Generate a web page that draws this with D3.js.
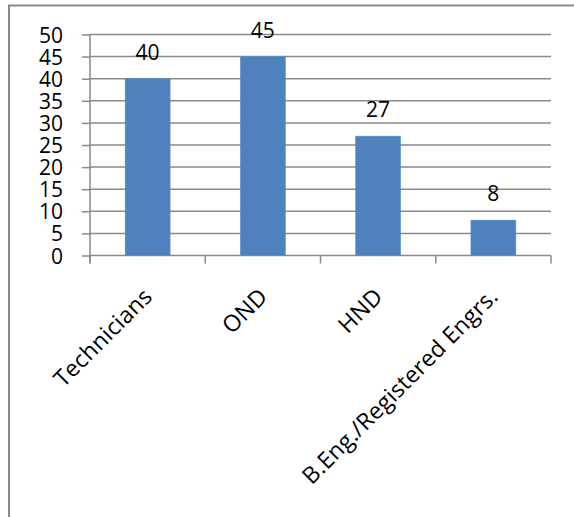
<!DOCTYPE html>
<html>
<head>
<meta charset="utf-8">
<script src="https://cdn.jsdelivr.net/npm/d3@7/dist/d3.min.js"></script>
<style>
  html, body { margin: 0; padding: 0; background: #fff; }
  svg { display: block; }
  text { font-family: "Open Sans", "Liberation Sans", sans-serif; fill: #000; }
</style>
</head>
<body>
<svg id="chart" width="574" height="517"></svg>
<script>
const categories = ["Technicians", "OND", "HND", "B.Eng./Registered Engrs."];
const values = [40, 45, 27, 8];
const yTicks = [0, 5, 10, 15, 20, 25, 30, 35, 40, 45, 50];

const svg = d3.select("#chart");
const W = 574, H = 517;

// outer chart frame (cropped at right and bottom)
svg.append("path")
  .attr("d", `M9,${H + 2} L9,5.5 L${W + 2},5.5`)
  .attr("fill", "none")
  .attr("stroke", "#878787")
  .attr("stroke-width", 2);

const plot = { left: 90, right: 551, top: 34.5, bottom: 255.5 };

const x = d3.scaleBand().domain(categories).range([plot.left, plot.right]).paddingInner(0.61).paddingOuter(0.305);
const xb = d3.scaleBand().domain(categories).range([plot.left, plot.right]).padding(0);
const y = d3.scaleLinear().domain([0, 50]).range([plot.bottom, plot.top]);

const gridColor = "#8a8a8a";

// gridlines
svg.append("g").selectAll("line").data(yTicks.filter(d => d > 0)).join("line")
  .attr("x1", plot.left).attr("x2", plot.right)
  .attr("y1", d => y(d)).attr("y2", d => y(d))
  .attr("stroke", gridColor).attr("stroke-width", 1.5);

// y axis
const yAxis = d3.axisLeft(y).tickValues(yTicks).tickSize(8).tickPadding(19).tickSizeOuter(0);
const gy = svg.append("g").attr("transform", `translate(${plot.left},0)`).call(yAxis);
gy.select(".domain").attr("stroke", gridColor).attr("stroke-width", 1.5)
  .attr("d", `M0,${plot.top}V${plot.bottom + 8}`);
gy.selectAll(".tick line").attr("stroke", gridColor).attr("stroke-width", 1.5);
gy.selectAll(".tick text").attr("font-size", 21).attr("dy", "0.36em")
  .style("font-family", '"Open Sans", "Liberation Sans", sans-serif').attr("fill", "#000");

// x axis baseline + ticks at category boundaries
const boundaries = categories.map(c => xb(c)).concat([plot.right]);
svg.append("line")
  .attr("x1", plot.left).attr("x2", plot.right)
  .attr("y1", plot.bottom).attr("y2", plot.bottom)
  .attr("stroke", gridColor).attr("stroke-width", 1.5);
svg.append("g").selectAll("line").data(boundaries).join("line")
  .attr("x1", d => d).attr("x2", d => d)
  .attr("y1", plot.bottom).attr("y2", plot.bottom + 8)
  .attr("stroke", gridColor).attr("stroke-width", 1.5);

// bars
svg.append("g").selectAll("rect").data(values).join("rect")
  .attr("x", (d, i) => x(categories[i]))
  .attr("width", x.bandwidth())
  .attr("y", d => y(d))
  .attr("height", d => y(0) - y(d))
  .attr("fill", "#4f81bd")
  .attr("stroke", "#5b8fd0").attr("stroke-width", 0.6);

// value labels
svg.append("g").selectAll("text").data(values).join("text")
  .attr("x", (d, i) => xb(categories[i]) + xb.bandwidth() / 2)
  .attr("y", d => y(d) - 19)
  .attr("text-anchor", "middle")
  .attr("font-size", 21)
  .text(d => d);

// rotated category labels
svg.append("g").selectAll("text").data(categories).join("text")
  .attr("text-anchor", "end")
  .attr("font-size", 23)
  .attr("letter-spacing", 0.2)
  .attr("transform", d => `translate(${xb(d) + xb.bandwidth() / 2 + 6},${298}) rotate(-45)`)
  .text(d => d);
</script>
</body>
</html>
